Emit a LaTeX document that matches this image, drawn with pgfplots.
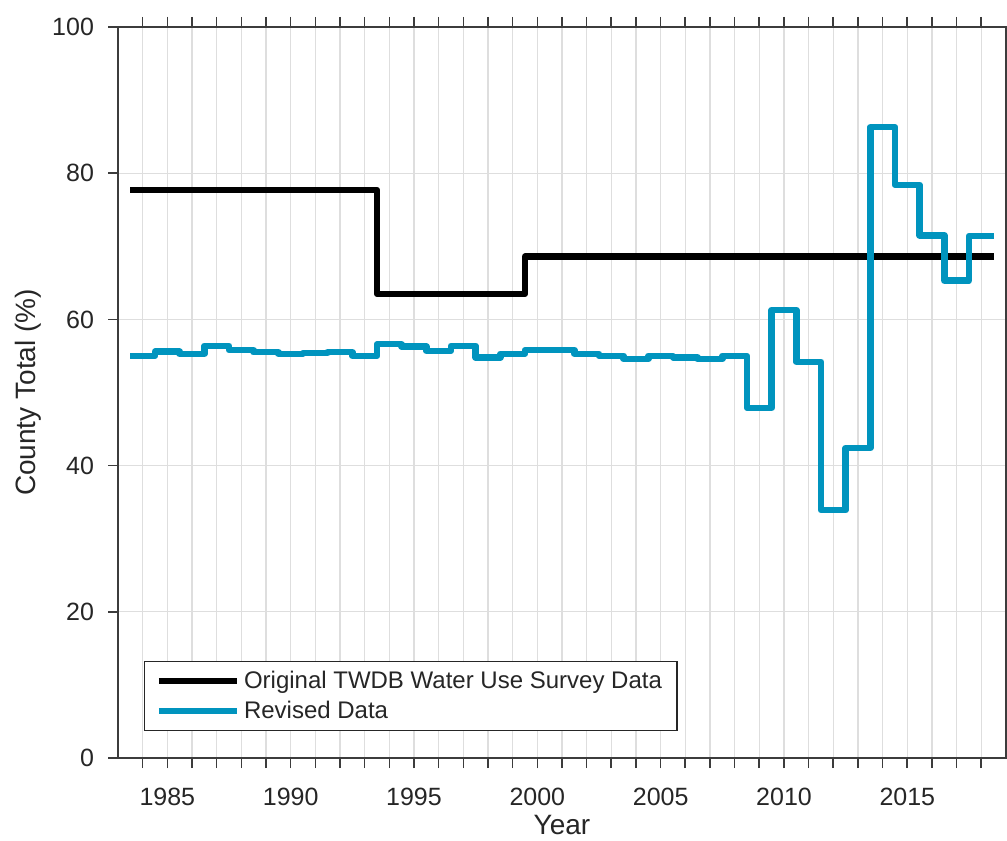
\documentclass[border=0pt]{standalone}
\usepackage{pgfplots}
\pgfplotsset{compat=1.18}
\usepackage{fontspec}
\setmainfont{Liberation Sans}
\definecolor{txt}{RGB}{38,38,38}
\definecolor{ax}{RGB}{60,60,60}
\definecolor{rev}{RGB}{0,148,190}
\begin{document}
\begin{tikzpicture}
\begin{axis}[
  scale only axis, width=444pt, height=365.5pt,
  xmin=1983, xmax=2019, ymin=0, ymax=100,
  xtick={1985,1990,...,2015}, minor xtick={1984,...,2018},
  ytick={0,20,...,100},
  xtick pos=both, ytick pos=left, xticklabel pos=left,
  tick align=outside, major tick length=5pt, minor tick length=5pt,
  tick style={ax, line width=0.8pt},
  minor tick style={ax, line width=0.8pt},
  axis line style={ax, line width=0.8pt},
  grid=both,
  major grid style={black!13, line width=0.6pt},
  minor grid style={black!13, line width=0.6pt},
  /pgf/number format/assume math mode=true,
  /pgf/number format/1000 sep={},
  tick label style={font=\fontsize{12.5}{15}\selectfont, text=txt},
  xticklabel style={yshift=-6.5pt},
  yticklabel style={xshift=-3.5pt},
  xlabel={Year}, ylabel={County Total (\%)},
  every axis x label/.style={at={(axis description cs:0.5,-0.091)}, anchor=center, font=\fontsize{14}{17}\selectfont, text=txt},
  every axis y label/.style={at={(axis description cs:-0.1014,0.5)}, anchor=center, rotate=90, font=\fontsize{14}{17}\selectfont, text=txt},
  legend style={at={(axis description cs:0.0293,0.0369)}, anchor=south west, draw=txt, line width=0.6pt, fill=white,
    font=\fontsize{12}{14}\selectfont, text=txt, inner xsep=5.5pt, inner ysep=2.5pt, row sep=1pt},
  legend cell align=left,
  legend image code/.code={\draw[#1] (0pt,0pt) -- (39pt,0pt);},
]
\addplot[black, line width=3.2pt, const plot mark left, line join=round] coordinates {
(1983.5,77.7) (1993.5,63.5) (1999.5,68.6) (2018.5,68.6)
};
\addlegendentry{Original TWDB Water Use Survey Data}
\addplot[rev, line width=3.2pt, const plot mark left, line join=round] coordinates {
(1983.5,55.0) (1984.5,55.6) (1985.5,55.3) (1986.5,56.4) (1987.5,55.8)
(1988.5,55.5) (1989.5,55.3) (1990.5,55.4) (1991.5,55.5) (1992.5,55.0)
(1993.5,56.6) (1994.5,56.3) (1995.5,55.7) (1996.5,56.4) (1997.5,54.8)
(1998.5,55.3) (1999.5,55.8) (2000.5,55.8) (2001.5,55.3) (2002.5,55.0)
(2003.5,54.6) (2004.5,55.0) (2005.5,54.8) (2006.5,54.6) (2007.5,55.0)
(2008.5,47.9) (2009.5,61.3) (2010.5,54.2) (2011.5,33.9) (2012.5,42.4)
(2013.5,86.3) (2014.5,78.4) (2015.5,71.5) (2016.5,65.3) (2017.5,71.4)
(2018.5,71.4)
};
\addlegendentry{Revised Data}
\end{axis}
\pgfresetboundingbox
\path ([shift={(-59pt,-41pt)}]current axis.south west) rectangle ([shift={(0.5pt,13.5pt)}]current axis.north east);
\end{tikzpicture}
\end{document}
